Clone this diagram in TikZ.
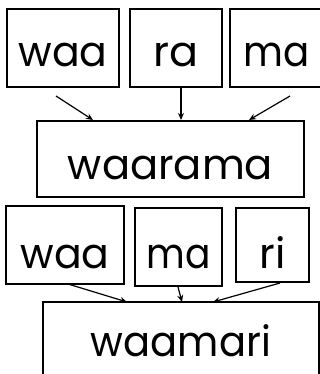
\documentclass[tikz,border=0pt]{standalone}
\usepackage{fontspec}
\setmainfont{Poppins}
\usetikzlibrary{arrows.meta}
\newcommand\fitw[2]{\resizebox{#1}{23pt}{\smash{#2}\vphantom{x}}}
\tikzset{
  box/.style={draw, line width=1.8pt, inner sep=0pt, text depth=0pt},
  arr/.style={line width=1.2pt, -{Stealth[length=7pt,width=6pt]}},
}
\begin{document}
\begin{tikzpicture}[x=1pt,y=-1pt]
\useasboundingbox (0,0) rectangle (320,374);
\clip (0,0) rectangle (320,374);
% top row
\node[box, minimum width=112pt, minimum height=78pt, text height=38pt] (waa1) at (63,48) {\fitw{89pt}{waa}};
\node[box, minimum width=92pt, minimum height=78pt, text height=38pt] (ra) at (176,48) {\fitw{45pt}{ra}};
\node[box, minimum width=94pt, minimum height=78pt, text height=38pt] (ma1) at (277,48) {\fitw{66pt}{ma}};
\node[box, minimum width=267pt, minimum height=76pt, text height=40pt] (waarama) at (170.5,159) {\fitw{205pt}{waarama}};
% bottom row
\node[box, minimum width=118pt, minimum height=78pt, text height=46pt] (waa2) at (65,245) {\fitw{89pt}{waa}};
\node[box, minimum width=87pt, minimum height=78pt, text height=42pt] (ma2) at (178.5,247) {\fitw{64pt}{ma}};
\node[box, minimum width=73pt, minimum height=74pt, text height=46pt] (ri) at (272.5,245) {\resizebox{!}{23pt}{\smash{ri}\vphantom{x}}};
\node[box, minimum width=276pt, minimum height=100pt, text height=8pt] (waamari) at (181,352) {\fitw{180pt}{waamari}};
% arrows
\coordinate (s1) at (56,96);  \coordinate (e1) at (93,120);
\coordinate (s2) at (181,88); \coordinate (e2) at (181,120);
\coordinate (s3) at (290,96); \coordinate (e3) at (249,120);
\coordinate (s4) at (68,284); \coordinate (e4) at (127,302);
\coordinate (s5) at (178,287); \coordinate (e5) at (182,302);
\coordinate (s6) at (280,283); \coordinate (e6) at (213,302);
\draw[arr] (s1) -- (e1);
\draw[arr] (s2) -- (e2);
\draw[arr] (s3) -- (e3);
\draw[arr] (s4) -- (e4);
\draw[arr] (s5) -- (e5);
\draw[arr] (s6) -- (e6);
\end{tikzpicture}
\end{document}
